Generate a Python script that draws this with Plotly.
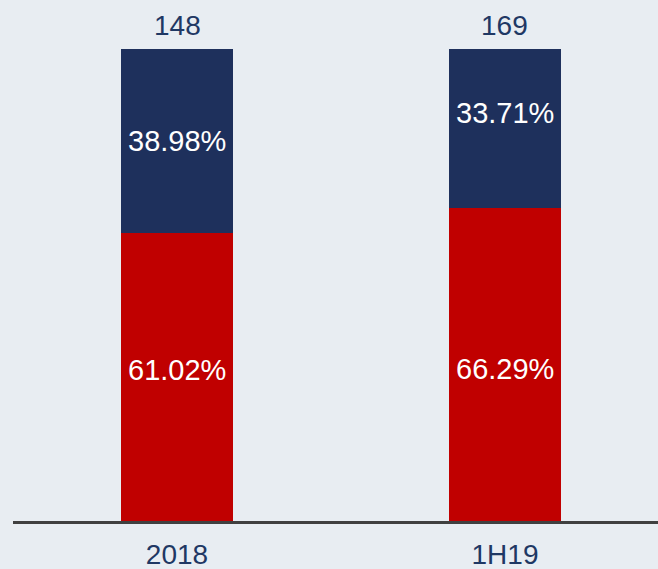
import plotly.graph_objects as go

categories = ["2018", "1H19"]
totals = [148, 169]
share_red = [61.02, 66.29]
share_blue = [38.98, 33.71]

x_pos = list(range(len(categories)))
FONT = "Liberation Sans, Arial, sans-serif"
NAVY_TXT = "#1f3864"
NAVY_BAR = "#1e305c"
RED_BAR = "#c00000"

# small vertical nudges (px) of the in-bar labels, as placed in the original slide
red_label_nudge = [7, -4]
blue_label_nudge = [0, 16]

fig = go.Figure()
fig.add_trace(go.Bar(
    x=x_pos, y=share_red, width=0.3415, marker=dict(color=RED_BAR, line=dict(width=0)),
    hoverinfo="skip", name="red"))
fig.add_trace(go.Bar(
    x=x_pos, y=share_blue, width=0.3415, marker=dict(color=NAVY_BAR, line=dict(width=0)),
    hoverinfo="skip", name="blue"))

for xi, r, b, nr, nb in zip(x_pos, share_red, share_blue, red_label_nudge, blue_label_nudge):
    fig.add_annotation(x=xi, y=r / 2, text=f"{r:.2f}%", showarrow=False,
                       yanchor="middle", yshift=nr,
                       font=dict(color="white", size=29, family=FONT))
    fig.add_annotation(x=xi, y=r + b / 2, text=f"{b:.2f}%", showarrow=False,
                       yanchor="middle", yshift=nb,
                       font=dict(color="white", size=29, family=FONT))

for xi, t, r, b in zip(x_pos, totals, share_red, share_blue):
    fig.add_annotation(x=xi, y=r + b, text=str(t), showarrow=False,
                       yanchor="middle", yshift=24,
                       font=dict(color=NAVY_TXT, size=28, family=FONT))

fig.update_layout(
    barmode="stack", showlegend=False,
    width=658, height=569,
    margin=dict(l=13, r=0, t=49, b=48, autoexpand=False),
    paper_bgcolor="#e8edf2", plot_bgcolor="rgba(0,0,0,0)",
    xaxis=dict(range=[-0.5, 1.4665], tickvals=x_pos, ticktext=categories,
               showgrid=False, zeroline=False, showline=True, linecolor="#404040",
               linewidth=3, ticks="", tickfont=dict(color=NAVY_TXT, size=28, family=FONT),
               ticklabelstandoff=6, fixedrange=True),
    yaxis=dict(range=[0, 100], visible=False, showgrid=False, zeroline=False, fixedrange=True),
)
fig.write_html("out.html", config={"displayModeBar": False, "staticPlot": True},
               post_script="document.body.style.margin='0';document.body.style.overflow='hidden';")
